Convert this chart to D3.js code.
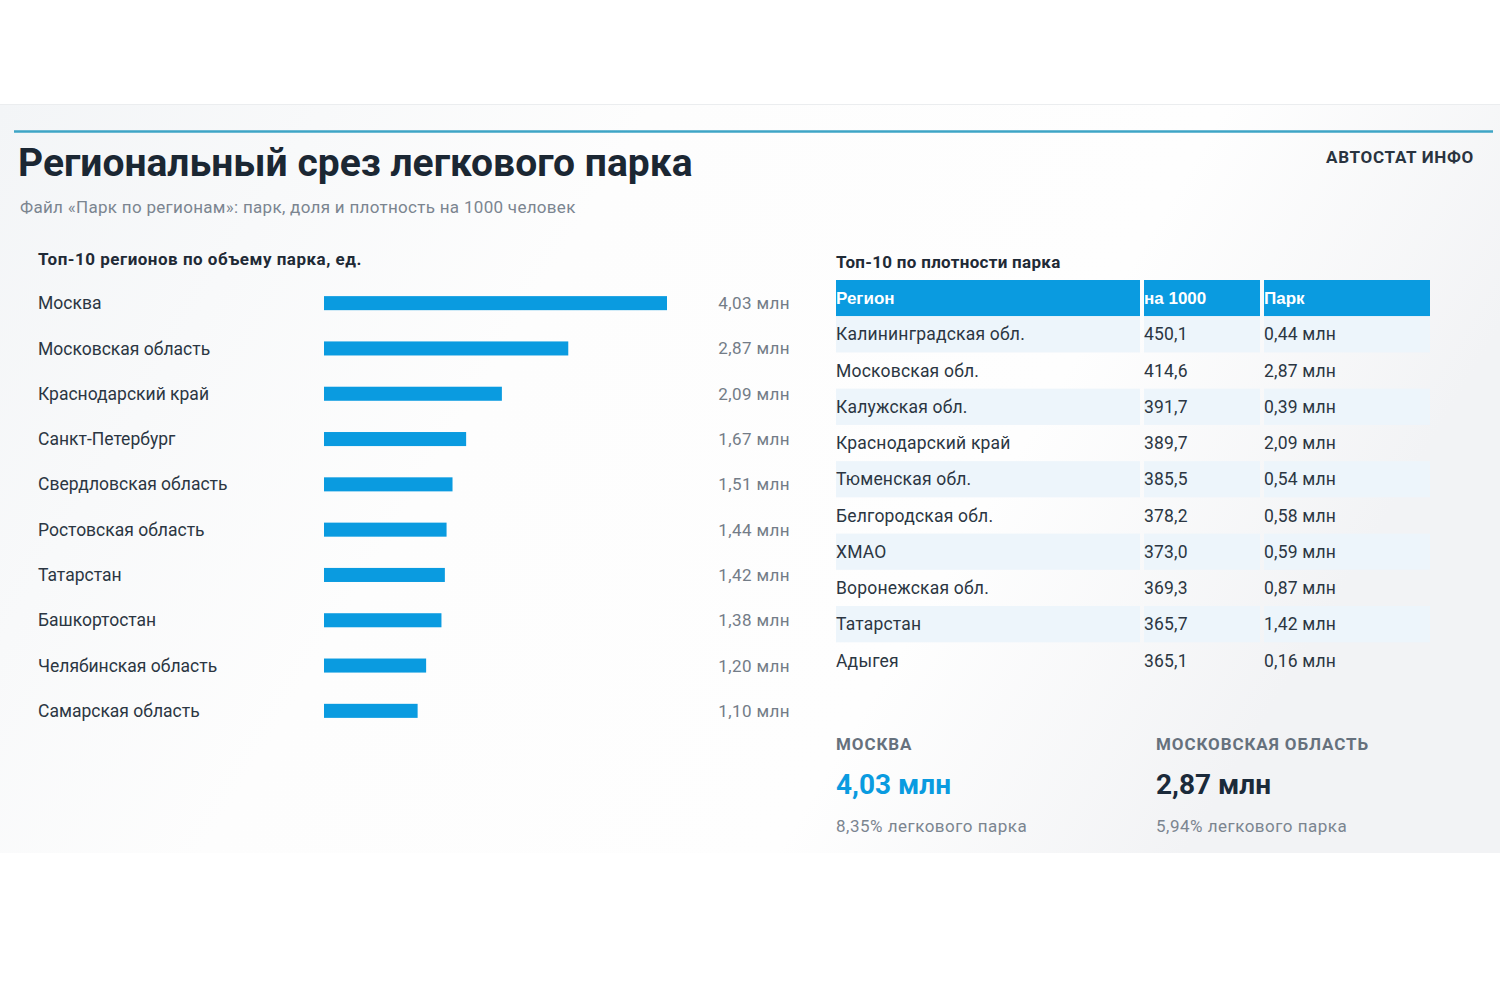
<!DOCTYPE html>
<html>
<head>
<meta charset="utf-8">
<title>Региональный срез легкового парка</title>
<script src="https://d3js.org/d3.v7.min.js"></script>
<style>
  body { margin: 0; background: #fff; }
  svg { display: block; font-family: Roboto, "Noto Sans", sans-serif; }
</style>
</head>
<body>
<svg width="1500" height="1000"></svg>
<script>
// top-10 by fleet size (mln)
const regions = ["Москва", "Московская область", "Краснодарский край", "Санкт-Петербург",
  "Свердловская область", "Ростовская область", "Татарстан", "Башкортостан",
  "Челябинская область", "Самарская область"];
const fleet = [4.03, 2.87, 2.09, 1.67, 1.51, 1.44, 1.42, 1.38, 1.20, 1.10];

// top-10 by density
const densRegions = ["Калининградская обл.", "Московская обл.", "Калужская обл.", "Краснодарский край",
  "Тюменская обл.", "Белгородская обл.", "ХМАО", "Воронежская обл.", "Татарстан", "Адыгея"];
const per1000 = [450.1, 414.6, 391.7, 389.7, 385.5, 378.2, 373.0, 369.3, 365.7, 365.1];
const densFleet = [0.44, 2.87, 0.39, 2.09, 0.54, 0.58, 0.59, 0.87, 1.42, 0.16];
const tableHeader = ["Регион", "на 1000", "Парк"];

// KPI cards
const kpiNames = ["МОСКВА", "МОСКОВСКАЯ ОБЛАСТЬ"];
const kpiValues = [4.03, 2.87];
const kpiShares = [8.35, 5.94];

const fmt2 = d => d3.format(".2f")(d).replace(".", ",");
const fmt1 = d => d3.format(".1f")(d).replace(".", ",");

const svg = d3.select("svg");
const blue = "#0a9be0";

// card background
const defs = svg.append("defs");
const grad = defs.append("linearGradient").attr("id", "bg").attr("x1", "0").attr("x2", "1").attr("y1", "0").attr("y2", "0.3");
grad.append("stop").attr("offset", "0").attr("stop-color", "#f3f5f7");
grad.append("stop").attr("offset", "0.4").attr("stop-color", "#fdfdfd");
grad.append("stop").attr("offset", "0.75").attr("stop-color", "#fefefe");
grad.append("stop").attr("offset", "1").attr("stop-color", "#f2f3f5");

svg.append("rect").attr("x", 0).attr("y", 104).attr("width", 1500).attr("height", 749).attr("fill", "url(#bg)");
svg.append("line").attr("x1", 0).attr("x2", 1500).attr("y1", 104.5).attr("y2", 104.5)
  .attr("stroke", "#ebedef").attr("stroke-width", 1);
svg.append("line").attr("x1", 14).attr("x2", 1493).attr("y1", 131.5).attr("y2", 131.5)
  .attr("stroke", "#3ea5c6").attr("stroke-width", 2.5);

// titles
svg.append("text").attr("x", 18).attr("y", 176).text("Региональный срез легкового парка")
  .attr("font-size", 39).attr("font-weight", 700).attr("fill", "#1b2733");
svg.append("text").attr("x", 20).attr("y", 213).text("Файл «Парк по регионам»: парк, доля и плотность на 1000 человек")
  .attr("font-size", 17).attr("letter-spacing", 0.3).attr("fill", "#7b8590");
svg.append("text").attr("x", 1474).attr("y", 163).attr("text-anchor", "end").text("АВТОСТАТ ИНФО")
  .attr("font-size", 17).attr("font-weight", 700).attr("letter-spacing", 0.7).attr("fill", "#2a3440");

// ---- bar chart
svg.append("text").attr("x", 38).attr("y", 265).text("Топ-10 регионов по объему парка, ед.")
  .attr("font-size", 17).attr("font-weight", 700).attr("letter-spacing", 0.5).attr("fill", "#1f2a36");

const x = d3.scaleLinear().domain([0, d3.max(fleet)]).range([324, 667]);
const y = d3.scaleBand().domain(regions).range([280.5, 733.5]).paddingInner(0.69).paddingOuter(0.345);

const bars = svg.append("g");
bars.selectAll("rect").data(regions).join("rect")
  .attr("x", x(0)).attr("y", d => y(d))
  .attr("width", (d, i) => x(fleet[i]) - x(0)).attr("height", y.bandwidth())
  .attr("fill", blue);
bars.selectAll("text.lab").data(regions).join("text").attr("class", "lab")
  .attr("x", 38).attr("y", d => y(d) + y.bandwidth() / 2).attr("dy", "0.35em")
  .attr("font-size", 17.5).attr("fill", "#2b3642").text(d => d);
bars.selectAll("text.val").data(regions).join("text").attr("class", "val")
  .attr("x", 790).attr("y", d => y(d) + y.bandwidth() / 2).attr("dy", "0.35em")
  .attr("text-anchor", "end").attr("font-size", 17).attr("letter-spacing", 0.4).attr("fill", "#737c87")
  .text((d, i) => fmt2(fleet[i]) + " млн");

// ---- density table
svg.append("text").attr("x", 836).attr("y", 268).text("Топ-10 по плотности парка")
  .attr("font-size", 17).attr("font-weight", 700).attr("letter-spacing", 0.3).attr("fill", "#1f2a36");

const colX = [836, 1144, 1264];
const colW = [304, 116, 166];
const rowY = d3.scaleBand().domain(d3.range(11)).range([280, 678.5]);
const rh = rowY.bandwidth();

const tbl = svg.append("g");
tbl.selectAll("rect.head").data(tableHeader).join("rect").attr("class", "head")
  .attr("x", (d, i) => colX[i]).attr("y", rowY(0)).attr("width", (d, i) => colW[i]).attr("height", rh)
  .attr("fill", blue);
tbl.selectAll("text.head").data(tableHeader).join("text").attr("class", "head")
  .attr("x", (d, i) => colX[i]).attr("y", rowY(0) + rh / 2).attr("dy", "0.35em")
  .attr("font-family", "'Liberation Sans', Arial, sans-serif").attr("font-size", 17).attr("font-weight", 700)
  .attr("fill", "#fff").text(d => d);

const rows = tbl.selectAll("g.row").data(densRegions).join("g").attr("class", "row")
  .attr("transform", (d, i) => `translate(0,${rowY(i + 1)})`);
rows.filter((d, i) => i % 2 === 0).selectAll("rect").data(colX).join("rect")
  .attr("x", d => d).attr("y", 0).attr("width", (d, i) => colW[i]).attr("height", rh)
  .attr("fill", "#edf5fb");
rows.each(function(d, i) {
  const g = d3.select(this);
  const cells = [d, fmt1(per1000[i]), fmt2(densFleet[i]) + " млн"];
  g.selectAll("text").data(cells).join("text")
    .attr("x", (c, j) => colX[j]).attr("y", rh / 2).attr("dy", "0.35em")
    .attr("font-size", 17.5).attr("letter-spacing", 0.2).attr("fill", "#2b3642").text(c => c);
});

// ---- KPI cards
const kpiX = [836, 1156];
const kpi = svg.append("g");
kpi.selectAll("text.name").data(kpiNames).join("text").attr("class", "name")
  .attr("x", (d, i) => kpiX[i]).attr("y", 750).attr("font-size", 17).attr("font-weight", 700)
  .attr("letter-spacing", 0.9).attr("fill", "#66717d").text(d => d);
kpi.selectAll("text.num").data(kpiValues).join("text").attr("class", "num")
  .attr("x", (d, i) => kpiX[i]).attr("y", 794).attr("font-size", 28).attr("font-weight", 700)
  .attr("fill", (d, i) => i === 0 ? blue : "#1b2a3a").text(d => fmt2(d) + " млн");
kpi.selectAll("text.share").data(kpiShares).join("text").attr("class", "share")
  .attr("x", (d, i) => kpiX[i]).attr("y", 832).attr("font-size", 17).attr("letter-spacing", 0.5)
  .attr("fill", "#7b8590").text(d => fmt2(d) + "% легкового парка");
</script>
</body>
</html>
